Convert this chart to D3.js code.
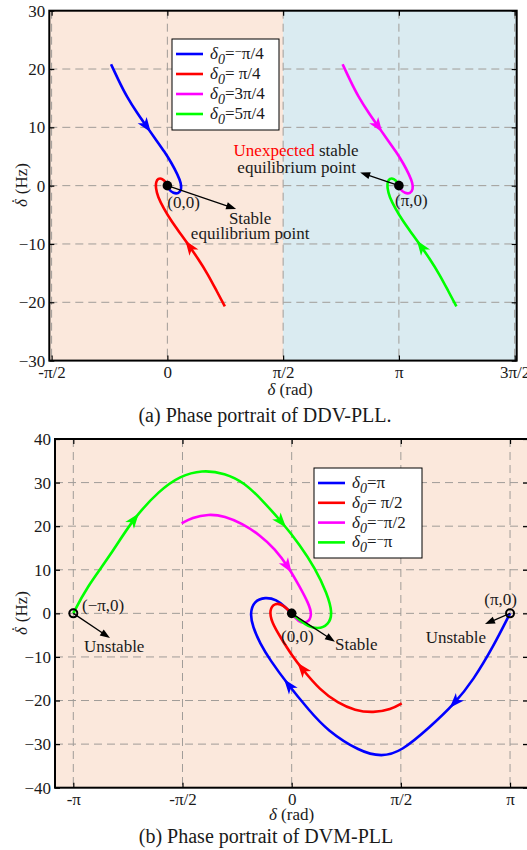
<!DOCTYPE html>
<html>
<head>
<meta charset="utf-8">
<script src="https://cdn.jsdelivr.net/npm/d3@7"></script>
<style>
body { margin: 0; background: #fff; }
svg text { font-family: "Liberation Serif", "Times New Roman", Times, serif; fill: #1a1a1a; }
</style>
</head>
<body>
<svg id="fig" width="527" height="850" font-family="Liberation Serif"></svg>
<script>
var PI = Math.PI;

// ---- (a) DDV-PLL : [delta (rad), delta-dot (Hz)] ----
var ddvBlue = [[-0.764,20.82],[-0.665,18.13],[-0.552,15.27],[-0.407,12.41],[-0.280,10.13],[-0.153,7.84],[-0.040,5.84],[0.059,3.84],[0.141,1.84],[0.186,0.41],[0.192,-0.62],[0.155,-1.35],[0.082,-1.35],[0.014,-0.57],[0,0]];
var ddvRed = [[0.78,-20.7],[0.67,-18.1],[0.555,-15.3],[0.41,-12.4],[0.285,-10.1],[0.158,-7.9],[0.045,-5.9],[-0.05,-3.9],[-0.13,-1.9],[-0.158,-0.4],[-0.155,0.65],[-0.125,1.25],[-0.07,1.25],[-0.015,0.55],[0,0]];
var ddvMagenta = [[2.378,20.82],[2.477,18.13],[2.590,15.27],[2.735,12.41],[2.862,10.13],[2.989,7.84],[3.102,5.84],[3.201,3.84],[3.283,1.84],[3.328,0.41],[3.334,-0.62],[3.297,-1.35],[3.224,-1.35],[3.156,-0.57],[3.1416,0]];
var ddvGreen = [[3.922,-20.7],[3.812,-18.1],[3.697,-15.3],[3.552,-12.4],[3.427,-10.1],[3.300,-7.9],[3.187,-5.9],[3.092,-3.9],[3.012,-1.9],[2.984,-0.4],[2.987,0.65],[3.017,1.25],[3.072,1.25],[3.127,0.55],[3.1416,0]];
var ddvLegend = ["\u2212\u03c0/4", "\u00a0\u03c0/4", "3\u03c0/4", "5\u03c0/4"];
var ddvArrows = [[[-0.28,10.1]], [[0.28,-10.5]], [[2.86,10.1]], [[3.43,-10.5]]];
var ddvXTicks = [-PI/2, 0, PI/2, PI, 3*PI/2];
var ddvXLabels = ["-\u03c0/2", "0", "\u03c0/2", "\u03c0", "3\u03c0/2"];
var ddvYTicks = [-30, -20, -10, 0, 10, 20, 30];

// ---- (b) DVM-PLL ----
var dvmBlue = [[3.1416,0],[2.900,-7.66],[2.613,-15.3],[2.349,-20.65],[1.990,-26.1],[1.572,-31.76],[1.295,-32.9],[0.983,-31.76],[0.504,-26.8],[0.249,-22.2],[-0.049,-16.45],[-0.312,-10.7],[-0.456,-6.88],[-0.56,-3.07],[-0.6,0],[-0.54,2.8],[-0.384,3.75],[-0.216,3.15],[-0.096,1.51],[0,0]];
var dvmRed = [[1.583,-20.65],[1.429,-22.07],[1.174,-22.81],[0.911,-22.3],[0.666,-20.58],[0.407,-17.6],[0.144,-12.62],[0,-9.57],[-0.154,-5.67],[-0.29,-2.0],[-0.322,0.76],[-0.245,2.4],[-0.121,2.0],[0,0]];
var dvmMagenta = [[-1.583,20.65],[-1.434,21.98],[-1.2,22.79],[-0.96,22.33],[-0.715,20.61],[-0.456,17.97],[-0.24,14.75],[-0.049,10.69],[0.119,6.03],[0.24,2.36],[0.298,-0.39],[0.225,-2.35],[0.095,-2.0],[0,0]];
var dvmGreen = [[-3.1416,0],[-2.956,5.8],[-2.614,13.15],[-2.279,21.8],[-1.895,28.3],[-1.607,31.5],[-1.295,32.9],[-0.96,32.2],[-0.672,29.9],[-0.427,26.0],[-0.144,21.0],[0.119,15.7],[0.335,10.4],[0.51,4.6],[0.59,0],[0.532,-2.6],[0.378,-3.75],[0.191,-2.65],[0,0]];
var dvmLegend = ["\u03c0", "\u00a0\u03c0/2", "\u2212\u03c0/2", "\u2212\u03c0"];
var dvmArrows = [[[2.33,-20.3],[-0.05,-16.4]], [[0.144,-12.6]], [[-0.05,10.7]], [[-2.28,21.8],[-0.144,21]]];
var dvmXTicks = [-PI, -PI/2, 0, PI/2, PI];
var dvmXLabels = ["-\u03c0", "-\u03c0/2", "0", "\u03c0/2", "\u03c0"];
var dvmYTicks = [-40, -30, -20, -10, 0, 10, 20, 30, 40];

var colors = ["#0000ff", "#ff0000", "#ff00ff", "#00ff00"];
var peach = "#fbe8dc", paleBlue = "#daebf1";

var svg = d3.select("#fig");
var line = d3.line().curve(d3.curveBasis);

function addArrow(g, pathSel, target, color) {
  var node = pathSel.node(), L = node.getTotalLength(), best = 0, bd = 1e9;
  for (var s = 0; s <= L; s += 0.5) {
    var p = node.getPointAtLength(s);
    var d = (p.x - target[0]) * (p.x - target[0]) + (p.y - target[1]) * (p.y - target[1]);
    if (d < bd) { bd = d; best = s; }
  }
  var a = node.getPointAtLength(Math.max(0, best - 4)),
      b = node.getPointAtLength(Math.min(L, best + 4)),
      c = node.getPointAtLength(best);
  var ang = Math.atan2(b.y - a.y, b.x - a.x) * 180 / PI;
  g.append("path")
    .attr("d", "M7,0L-8,-5.5L-4,0L-8,5.5Z")
    .attr("transform", "translate(" + c.x + "," + c.y + ")rotate(" + ang + ")")
    .attr("fill", color);
}

function annArrow(g, x1, y1, x2, y2) {
  var ang = Math.atan2(y2 - y1, x2 - x1);
  var bx = x2 - 9 * Math.cos(ang), by = y2 - 9 * Math.sin(ang);
  g.append("line").attr("x1", x1).attr("y1", y1).attr("x2", bx).attr("y2", by)
    .attr("stroke", "#000").attr("stroke-width", 1.3);
  g.append("path")
    .attr("d", "M0,0L-10,-3.6L-10,3.6Z")
    .attr("transform", "translate(" + x2 + "," + y2 + ")rotate(" + ang * 180 / PI + ")")
    .attr("fill", "#000");
}

function legendLabel(t, label) {
  t.append("tspan").attr("font-style", "italic").text("\u03b4");
  t.append("tspan").attr("font-style", "italic").attr("font-size", 14).attr("dy", 5).text("0");
  t.append("tspan").attr("dy", -5).text("=");
  if (label.charAt(0) === "\u2212") {
    t.append("tspan").attr("font-size", 13).attr("dy", -3).text("\u2212");
    t.append("tspan").attr("dy", 3).text(label.slice(1));
  } else {
    t.append("tspan").text(label);
  }
}

function panel(o) {
  var x = d3.scaleLinear().domain(o.xDomain).range([o.left, o.right]);
  var y = d3.scaleLinear().domain(o.yDomain).range([o.bottom, o.top]);
  var g = svg.append("g");

  o.bands.forEach(function(b) {
    g.append("rect").attr("x", x(b[0])).attr("y", o.top)
      .attr("width", x(b[1]) - x(b[0])).attr("height", o.bottom - o.top)
      .attr("fill", b[2]);
  });

  // dashed grid
  var grid = g.append("g").attr("stroke", "#a09c98").attr("stroke-width", 1).attr("stroke-dasharray", "8,5");
  o.xTicks.forEach(function(v) {
    grid.append("line").attr("x1", x(v)).attr("x2", x(v)).attr("y1", o.top).attr("y2", o.bottom);
  });
  o.yTicks.slice(1, -1).forEach(function(v) {
    grid.append("line").attr("x1", o.left).attr("x2", o.right).attr("y1", y(v)).attr("y2", y(v));
  });

  // axes with inward ticks
  var ax = g.append("g").attr("transform", "translate(0," + o.bottom + ")")
    .call(d3.axisBottom(x).tickValues(o.xTicks).tickSize(-5).tickPadding(5)
      .tickFormat(function(d, i) { return o.xLabels[i]; }));
  var ay = g.append("g").attr("transform", "translate(" + o.left + ",0)")
    .call(d3.axisLeft(y).tickValues(o.yTicks).tickSize(-5).tickPadding(4));
  var ay2 = g.append("g").attr("transform", "translate(" + o.right + ",0)")
    .call(d3.axisRight(y).tickValues(o.yTicks).tickSize(-5).tickFormat(""));
  var ax2 = g.append("g").attr("transform", "translate(0," + o.top + ")")
    .call(d3.axisTop(x).tickValues(o.xTicks).tickSize(-5).tickFormat(""));
  [ax, ay, ay2, ax2].forEach(function(a) {
    a.attr("font-family", null);
    a.select(".domain").remove();
    a.selectAll("line").attr("stroke", "#000").attr("stroke-width", 1.2);
    a.selectAll("text").attr("font-size", 17).attr("fill", "#1a1a1a");
  });

  g.append("rect").attr("x", o.left).attr("y", o.top)
    .attr("width", o.right - o.left).attr("height", o.bottom - o.top)
    .attr("fill", "none").attr("stroke", "#000").attr("stroke-width", 2);

  // trajectories
  o.series.forEach(function(s, i) {
    var p = g.append("path")
      .attr("d", line(s.map(function(d) { return [x(d[0]), y(d[1])]; })))
      .attr("fill", "none").attr("stroke", colors[i]).attr("stroke-width", 2.6);
    o.arrows[i].forEach(function(a) { addArrow(g, p, [x(a[0]), y(a[1])], colors[i]); });
  });

  // equilibrium points
  o.dots.forEach(function(d) {
    g.append("circle").attr("cx", x(d[0])).attr("cy", y(d[1])).attr("r", d[2] ? 4.8 : 4)
      .attr("fill", d[2] ? "#000" : "none").attr("stroke", "#000").attr("stroke-width", d[2] ? 0 : 2);
  });

  // annotation arrows and texts
  o.pointers.forEach(function(p) { annArrow(g, x(p[0]), y(p[1]), x(p[2]), y(p[3])); });
  o.notes.forEach(function(n) {
    var t = g.append("text").attr("x", x(n[0])).attr("y", y(n[1]))
      .attr("text-anchor", n[2]).attr("font-size", 17);
    if (n[4]) {
      t.append("tspan").style("fill", "#ff0000").text(n[4]);
      t.append("tspan").text(n[3]);
    } else t.text(n[3]);
  });

  // legend
  var lg = g.append("g");
  lg.append("rect").attr("x", o.legend[0]).attr("y", o.legend[1]).attr("width", o.legend[2]).attr("height", o.legend[3])
    .attr("fill", "#fff").attr("stroke", "#000").attr("stroke-width", 1);
  o.legendLabels.forEach(function(l, i) {
    var ly = o.legend[1] + 15 + i * o.legend[4];
    lg.append("line").attr("x1", o.legend[0] + 4).attr("x2", o.legend[0] + 31).attr("y1", ly).attr("y2", ly)
      .attr("stroke", colors[i]).attr("stroke-width", 2.6);
    var t = lg.append("text").attr("x", o.legend[0] + 38).attr("y", ly + 5).attr("font-size", 17);
    legendLabel(t, l);
  });

  // axis titles and caption
  var xt = g.append("text").attr("x", o.xTitle[0]).attr("y", o.xTitle[1]).attr("text-anchor", "middle").attr("font-size", 17);
  xt.append("tspan").attr("font-style", "italic").text("\u03b4");
  xt.append("tspan").text(" (rad)");
  var yt = g.append("text").attr("transform", "translate(" + o.yTitle[0] + "," + o.yTitle[1] + ")rotate(-90)")
    .attr("text-anchor", "middle").attr("font-size", 17);
  yt.append("tspan").attr("font-style", "italic").text("\u03b4");
  yt.append("tspan").attr("font-style", "italic").attr("dx", -6).attr("dy", -4).text("\u02d9");
  yt.append("tspan").attr("dx", 1).attr("dy", 4).text(" (Hz)");
  g.append("text").attr("x", o.caption[0]).attr("y", o.caption[1]).attr("text-anchor", "middle")
    .attr("font-size", 20).text(o.caption[2]);
}

panel({
  left: 49.3, right: 516.7, top: 10.7, bottom: 360.6,
  xDomain: [-1.602, 4.74], yDomain: [-30, 30],
  bands: [[-1.602, PI/2, peach], [PI/2, 4.74, paleBlue]],
  xTicks: ddvXTicks, xLabels: ddvXLabels, yTicks: ddvYTicks,
  series: [ddvBlue, ddvRed, ddvMagenta, ddvGreen],
  arrows: ddvArrows,
  dots: [[0, 0, true], [PI, 0, true]],
  pointers: [[0, 0, 0.933, -4.0], [PI, 0, 2.616, 2.26]],
  notes: [[0, -3.9, "start", "(0,0)"], [1.123, -6.57, "middle", "Stable"], [1.123, -9.15, "middle", "equilibrium point"],
          [1.747, 5.09, "middle", " stable", "Unexpected"], [1.754, 2.18, "middle", "equilibrium point"],
          [3.09, -3.5, "start", "(\u03c0,0)"]],
  legend: [172, 39, 107, 91, 20],
  legendLabels: ddvLegend,
  xTitle: [290, 395], yTitle: [27, 185],
  caption: [265, 422, "(a) Phase portrait of DDV-PLL."]
});

panel({
  left: 55, right: 528, top: 439, bottom: 787.7,
  xDomain: [-3.405, 3.40], yDomain: [-40, 40],
  bands: [[-3.405, 3.40, peach]],
  xTicks: dvmXTicks, xLabels: dvmXLabels, yTicks: dvmYTicks,
  series: [dvmBlue, dvmRed, dvmMagenta, dvmGreen],
  arrows: dvmArrows,
  dots: [[0, 0, true], [-PI, 0, false], [PI, 0, false]],
  pointers: [[-PI, 0, -2.614, -5.67], [0, 0, 0.623, -6.52], [PI, 0, 2.781, -2.46]],
  notes: [[-3.017, 0.53, "start", "(\u2212\u03c0,0)"], [-2.988, -8.88, "start", "Unstable"],
          [-0.154, -6.59, "start", "(0,0)"], [0.623, -8.42, "start", "Stable"],
          [2.771, 1.9, "start", "(\u03c0,0)"], [1.928, -6.75, "start", "Unstable"]],
  legend: [314, 468, 108, 90, 19.8],
  legendLabels: dvmLegend,
  xTitle: [291.5, 820], yTitle: [27, 613],
  caption: [266, 843, "(b) Phase portrait of DVM-PLL"]
});
</script>
</body>
</html>
